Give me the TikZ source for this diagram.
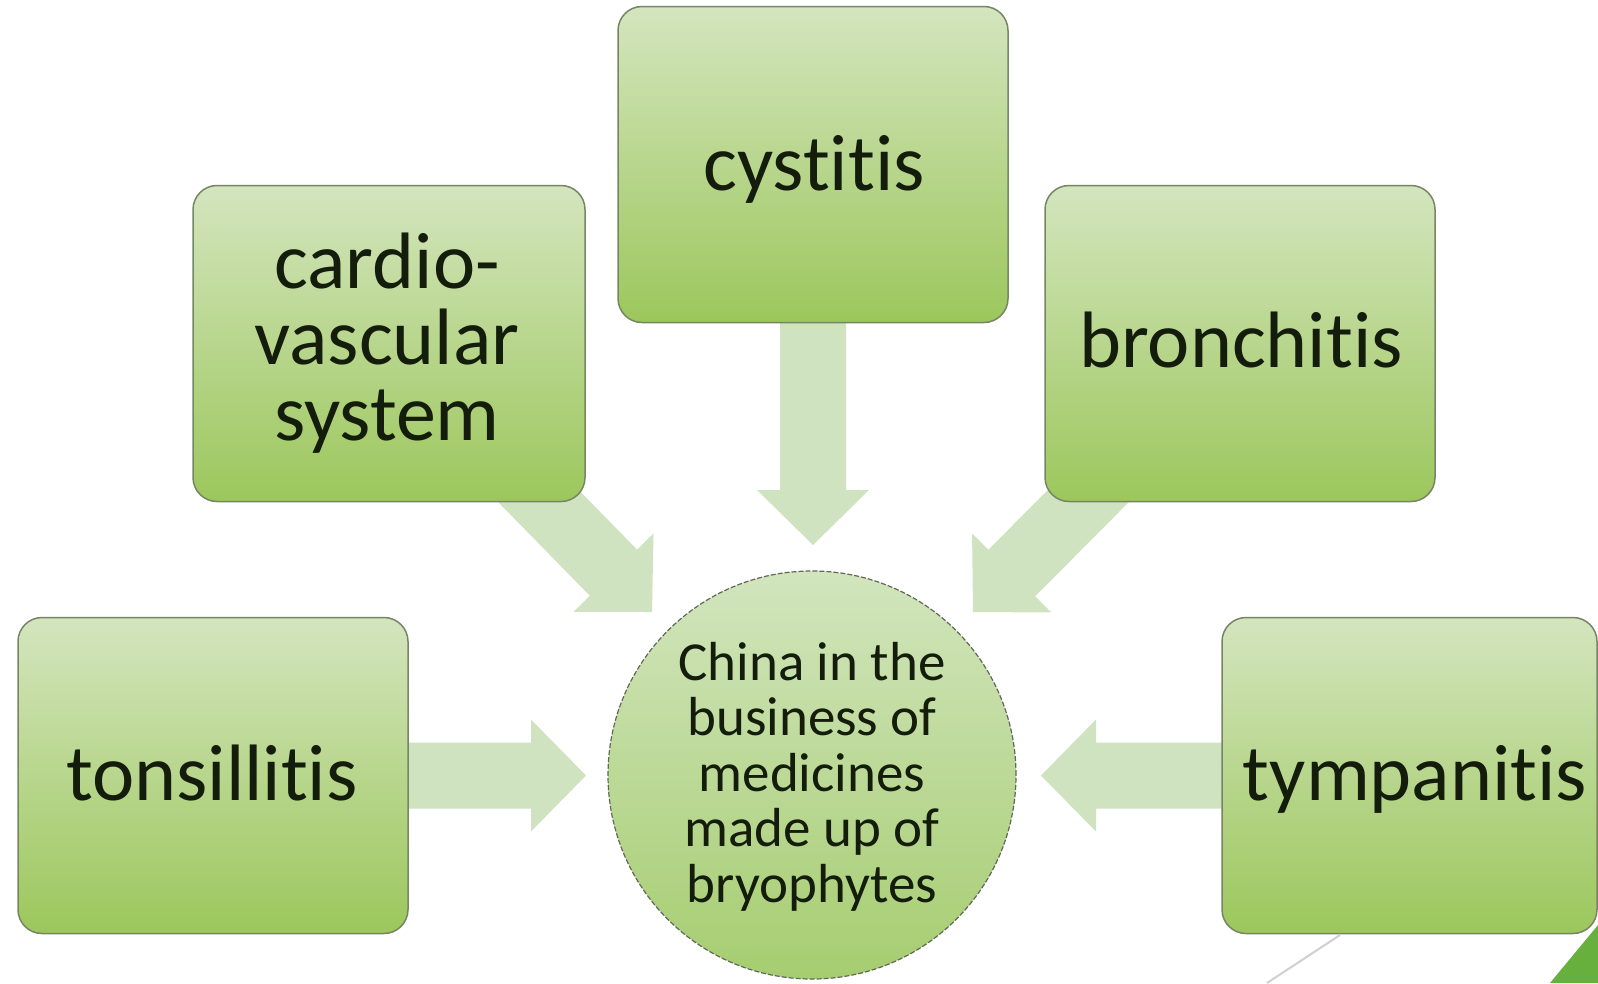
\documentclass[tikz,border=0pt]{standalone}
\usepackage{fontspec}
\setmainfont{Carlito}[Ligatures={NoCommon,NoContextual}]
\usetikzlibrary{calc}
\pgfdeclarelayer{bg}
\pgfsetlayers{bg,main}
\definecolor{boxtop}{RGB}{212,229,190}
\definecolor{boxbot}{RGB}{156,199,92}
\definecolor{boxline}{RGB}{118,134,100}
\definecolor{hubtop}{RGB}{210,229,190}
\definecolor{hubbot}{RGB}{166,205,112}
\definecolor{hubline}{RGB}{95,105,85}
\definecolor{flowcol}{RGB}{208,227,192}
\definecolor{inkcol}{RGB}{20,28,12}
\definecolor{decogreen}{RGB}{104,176,62}
\definecolor{decogray}{RGB}{208,208,208}
\newcommand{\flowarrow}[3]{%
  \coordinate (#3m) at ($(#2)!55pt!(#1)$);
  \fill[flowcol] ($(#1)!33pt!90:(#2)$) -- ($(#3m)!33pt!90:(#2)$) -- ($(#3m)!56pt!90:(#2)$)
     -- (#2) -- ($(#3m)!56pt!-90:(#2)$) -- ($(#3m)!33pt!-90:(#2)$) -- ($(#1)!33pt!-90:(#2)$) -- cycle;}
\begin{document}
\begin{tikzpicture}[x=1pt,y=-1pt,
  diseasebox/.style={rectangle, rounded corners=24pt, minimum width=390pt, minimum height=316pt,
    inner sep=0pt, top color=boxtop, bottom color=boxbot, draw=boxline, line width=1.5pt},
  hubnode/.style={circle, minimum size=408pt, inner sep=0pt, top color=hubtop, bottom color=hubbot,
    draw=hubline, line width=1.2pt, dash pattern=on 5pt off 2pt},
  biglabel/.style={font=\fontsize{80}{76}\selectfont, text=inkcol, anchor=base, inner sep=0pt, align=center},
  hublabel/.style={font=\fontsize{55}{55.5}\selectfont, text=inkcol, anchor=base, inner sep=0pt, align=center}]
\useasboundingbox (0,0) rectangle (1598,983);

% boxes
\node[diseasebox] (cys) at (813,164.5) {};
\node[diseasebox, minimum width=392pt] (card) at (389,343.5) {};
\node[diseasebox] (brn) at (1240,343.5) {};
\node[diseasebox] (ton) at (213,775.5) {};
\node[diseasebox, minimum width=375pt] (tym) at (1409.5,775.5) {};
\node[hubnode] (hub) at (812,775) {};

% labels (base = baseline of the last line)
\node[biglabel] (tcys) at (814,190) {cystitis};
\node[biglabel] (tcard) at (387,440) {cardio-\\vascular\\system};
\node[biglabel] (tbrn) at (1241,367) {bronchitis};
\node[biglabel] (tton) at (212,800) {tonsillitis};
\node[biglabel] (ttym) at (1415,800) {tympanitis};
\node[hublabel] (thub) at (812,902) {China in the\\business of\\medicines\\made up of\\bryophytes};

% arrow tips
\coordinate (tipW) at (586,775.5);
\coordinate (tipE) at (1041,775.5);
\coordinate (tipN) at (813,545);
\coordinate (tipNW) at (652,612);
\coordinate (tipNE) at (973,612);

\begin{pgfonlayer}{bg}
  \fill[white] (0,0) rectangle (1598,983);
  \flowarrow{ton.center}{tipW}{aw}
  \flowarrow{tym.center}{tipE}{ae}
  \flowarrow{cys.center}{tipN}{an}
  \flowarrow{card.center}{tipNW}{anw}
  \flowarrow{brn.center}{tipNE}{ane}
\end{pgfonlayer}

% slide decorations
\draw[decogray, line width=2pt] (1340,935) -- (1267,983);
\fill[decogreen] (1598,925) -- (1598,983) -- (1550,983) -- cycle;
\end{tikzpicture}
\end{document}
